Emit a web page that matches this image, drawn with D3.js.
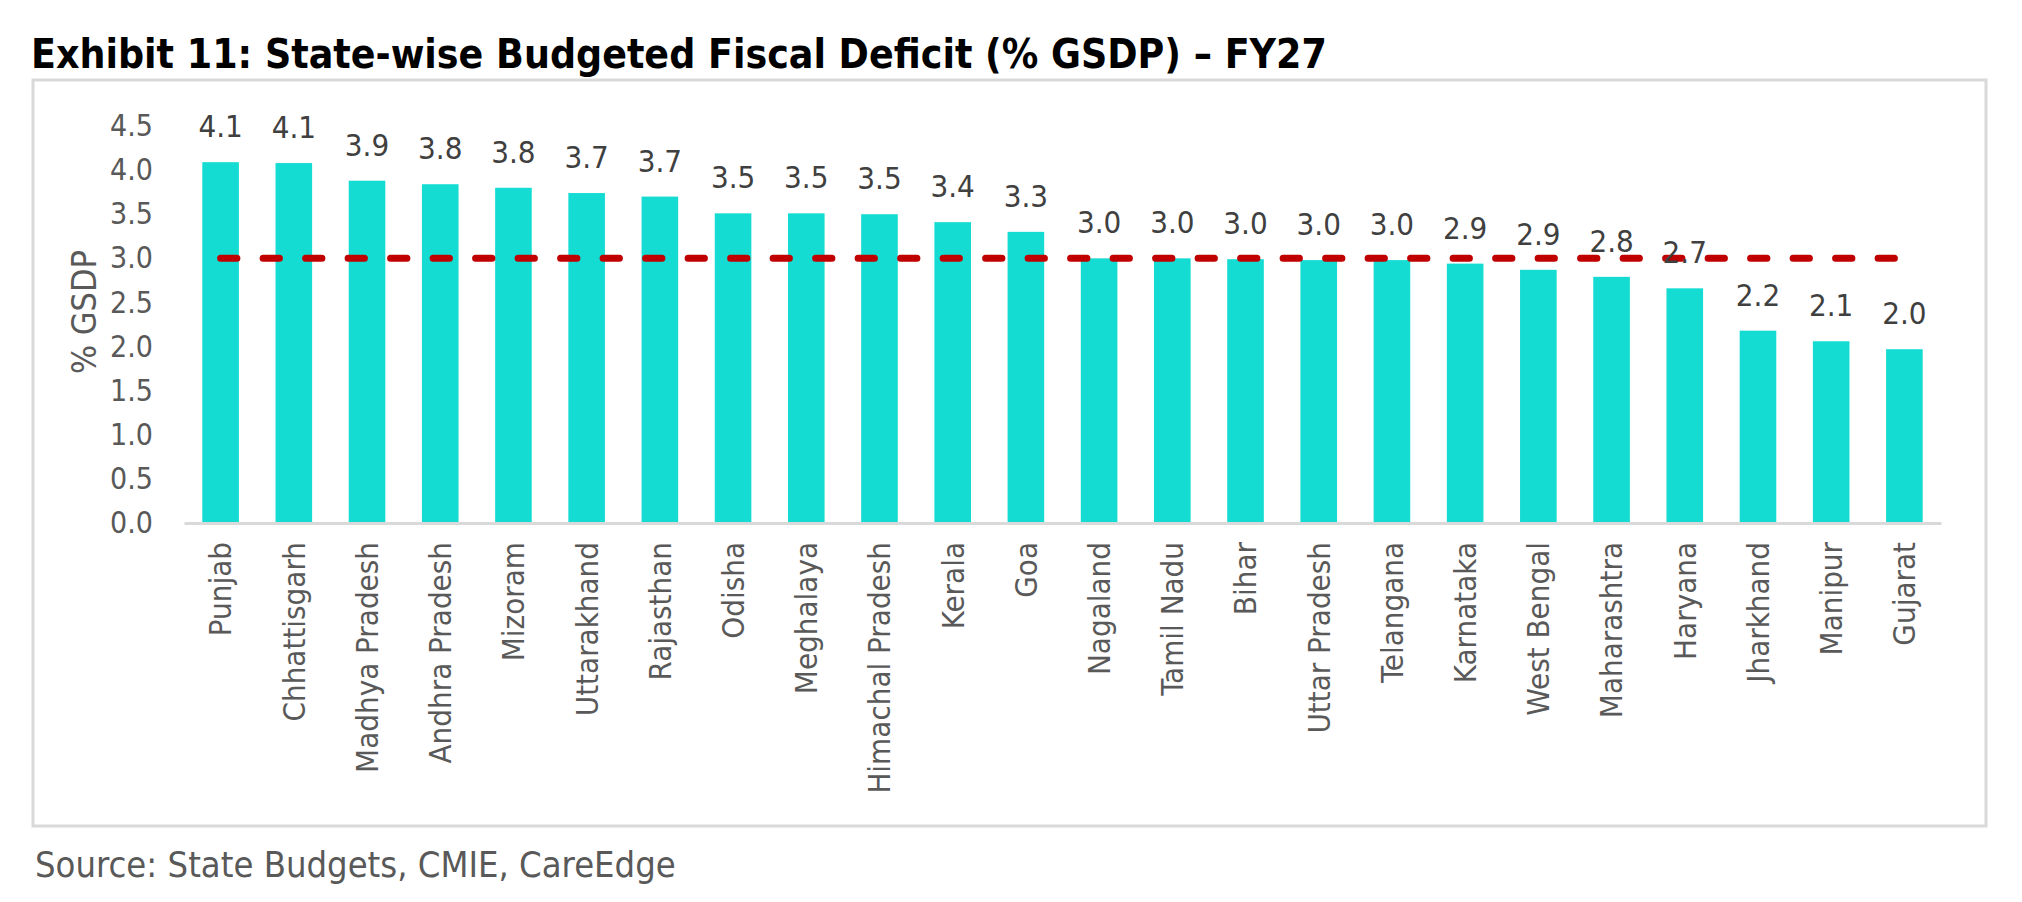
<!DOCTYPE html>
<html>
<head>
<meta charset="utf-8">
<script src="https://cdn.jsdelivr.net/npm/d3@7/dist/d3.min.js"></script>
<style>
body { margin: 0; background: #fff; }
text { font-family: "DejaVu Sans Condensed", "DejaVu Sans", sans-serif; }
</style>
</head>
<body>
<div id="chart"></div>
<script>
const states = ['Punjab', 'Chhattisgarh', 'Madhya Pradesh', 'Andhra Pradesh', 'Mizoram', 'Uttarakhand',
  'Rajasthan', 'Odisha', 'Meghalaya', 'Himachal Pradesh', 'Kerala', 'Goa', 'Nagaland', 'Tamil Nadu',
  'Bihar', 'Uttar Pradesh', 'Telangana', 'Karnataka', 'West Bengal', 'Maharashtra', 'Haryana',
  'Jharkhand', 'Manipur', 'Gujarat'];
const deficit = [4.09, 4.08, 3.88, 3.84, 3.80, 3.74, 3.70, 3.51, 3.51, 3.50, 3.41, 3.30, 3.00, 3.00,
  2.99, 2.98, 2.98, 2.94, 2.87, 2.79, 2.66, 2.18, 2.06, 1.97];
const threshold = 3.0;
const yTicks = [0, 0.5, 1.0, 1.5, 2.0, 2.5, 3.0, 3.5, 4.0, 4.5];

const titleText = 'Exhibit 11: State-wise Budgeted Fiscal Deficit (% GSDP) \u2013 FY27';
const sourceText = 'Source: State Budgets, CMIE, CareEdge';
const yTitle = '% GSDP';

const width = 2022, height = 902;
const plot = { left: 184, right: 1941, top: 126, bottom: 523 };

const svg = d3.select('#chart')
  .append('svg')
  .attr('width', width)
  .attr('height', height);

svg.append('rect')
  .attr('width', width)
  .attr('height', height)
  .attr('fill', '#fff');

// outer chart frame
svg.append('rect')
  .attr('x', 33)
  .attr('y', 80)
  .attr('width', 1953)
  .attr('height', 746)
  .attr('fill', 'none')
  .attr('stroke', '#d9d9d9')
  .attr('stroke-width', 3);

const x = d3.scaleBand()
  .domain(states)
  .range([plot.left, plot.right])
  .paddingInner(0.5)
  .paddingOuter(0.25);

const y = d3.scaleLinear()
  .domain([0, 4.5])
  .range([plot.bottom, plot.top]);

// y axis
const yAxis = svg.append('g')
  .attr('transform', `translate(${plot.left},0)`)
  .call(d3.axisLeft(y).tickValues(yTicks).tickFormat(d3.format('.1f')).tickSize(0).tickPadding(31));
yAxis.select('.domain').remove();
yAxis.selectAll('text')
  .attr('fill', '#595959')
  .style('font-size', '30px');

svg.append('text')
  .attr('transform', `translate(84,312) rotate(-90)`)
  .attr('text-anchor', 'middle')
  .attr('dy', '0.35em')
  .attr('fill', '#595959')
  .style('font-size', '34px')
  .text(yTitle);

// bars
svg.selectAll('rect.bar')
  .data(states)
  .enter()
  .append('rect')
  .attr('class', 'bar')
  .attr('x', d => x(d))
  .attr('y', (d, i) => y(deficit[i]))
  .attr('width', x.bandwidth())
  .attr('height', (d, i) => y(0) - y(deficit[i]))
  .attr('fill', '#14dcd2');

// x axis
const xAxis = svg.append('g')
  .attr('transform', `translate(0,${plot.bottom})`)
  .call(d3.axisBottom(x).tickSize(0).tickSizeOuter(0));
xAxis.select('.domain')
  .attr('stroke', '#d9d9d9')
  .attr('stroke-width', 3);
xAxis.selectAll('text')
  .attr('transform', 'rotate(-90)')
  .attr('x', -19)
  .attr('y', 0)
  .attr('dy', '0.35em')
  .style('text-anchor', 'end')
  .style('font-size', '31px')
  .attr('fill', '#595959');

// 3% threshold line
const line = d3.line()
  .x(d => x(d) + x.bandwidth() / 2)
  .y(() => y(threshold));

svg.append('path')
  .datum(states)
  .attr('d', line)
  .attr('fill', 'none')
  .attr('stroke', '#c00000')
  .attr('stroke-width', 7)
  .attr('stroke-linecap', 'round')
  .attr('stroke-dasharray', '16.3 26.2');

// value labels
svg.selectAll('text.val')
  .data(states)
  .enter()
  .append('text')
  .attr('class', 'val')
  .attr('x', d => x(d) + x.bandwidth() / 2)
  .attr('y', (d, i) => y(deficit[i]) - 25)
  .attr('text-anchor', 'middle')
  .attr('fill', '#404040')
  .style('font-size', '31px')
  .text((d, i) => deficit[i].toFixed(1));

// title and source, sized to span the same width as the original
function fitText(sel, target) {
  const fs = parseFloat(sel.style('font-size'));
  const w = sel.node().getComputedTextLength();
  sel.style('font-size', (fs * target / w) + 'px');
}

const title = svg.append('text')
  .attr('x', 31)
  .attr('y', 68)
  .attr('fill', '#000')
  .style('font-weight', 'bold')
  .style('font-size', '36px')
  .text(titleText);
fitText(title, 1296);

const source = svg.append('text')
  .attr('x', 35)
  .attr('y', 877)
  .attr('fill', '#595959')
  .style('font-size', '30px')
  .text(sourceText);
fitText(source, 641);
</script>
</body>
</html>
